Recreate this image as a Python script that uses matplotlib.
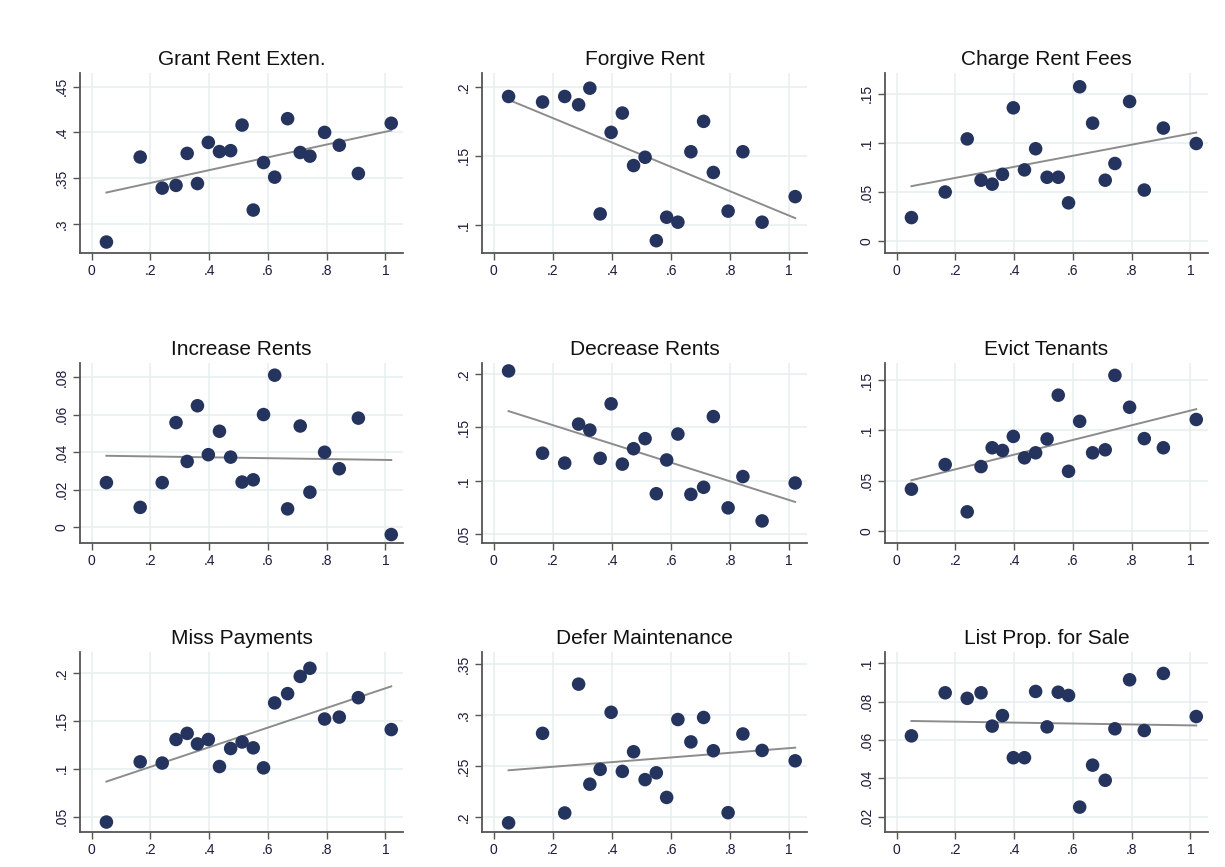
import numpy as np
import matplotlib.pyplot as plt
from matplotlib.ticker import FuncFormatter

plt.rcParams['font.family'] = ['Liberation Sans', 'DejaVu Sans']

# shared x values (share of ...), same for every panel
x = [0.05, 0.165, 0.24, 0.287, 0.325, 0.36, 0.397, 0.435, 0.473, 0.512,
     0.55, 0.585, 0.623, 0.667, 0.71, 0.743, 0.793, 0.843, 0.908, 1.02]

titles = ['Grant Rent Exten.', 'Forgive Rent', 'Charge Rent Fees',
          'Increase Rents', 'Decrease Rents', 'Evict Tenants',
          'Miss Payments', 'Defer Maintenance', 'List Prop. for Sale']

grant = [.280, .373, .339, .342, .377, .344, .389, .379, .380, .408,
         .315, .367, .351, .415, .378, .374, .400, .386, .355, .410]
forgive = [.193, .189, .193, .187, .199, .108, .167, .181, .143, .149,
           .0886, .1056, .102, .153, .175, .138, .110, .153, .102, .1205]
charge = [.024, .050, .104, .062, .058, .068, .1356, .0725, .094, .065,
          .065, .039, .157, .120, .062, .079, .142, .052, .115, .0993]
increase = [.0237, .0105, .0237, .0557, .035, .0647, .0386, .0511, .0373, .024,
            .0252, .060, .081, .0097, .0539, .0186, .0399, .0311, .0581, -.004]
decrease = [.2026, .1258, .1166, .153, .1474, .121, .1719, .1156, .130, .1394,
            .088, .1195, .1437, .0874, .094, .160, .0748, .104, .0626, .098]
evict = [.0415, .066, .019, .064, .0827, .080, .094, .0727, .0777, .0914,
         .135, .0593, .109, .0777, .0807, .1547, .123, .0918, .0827, .1108]
miss = [.0444, .1073, .106, .1306, .137, .126, .1306, .1024, .1212, .128,
        .1219, .101, .1688, .1785, .1965, .205, .152, .154, .1743, .141]
defer = [.194, .282, .2037, .3304, .232, .2466, .3027, .2446, .2639, .2365,
         .2432, .219, .2956, .2736, .2976, .2649, .204, .2814, .2652, .255]
listprop = [.0622, .0847, .0818, .0847, .0673, .0728, .0508, .0508, .0854, .0669,
            .085, .0833, .025, .0469, .039, .0659, .0915, .065, .0948, .0723]

series = [grant, forgive, charge, increase, decrease, evict, miss, defer, listprop]

yticks = [[.3, .35, .4, .45], [.1, .15, .2], [0, .05, .1, .15],
          [0, .02, .04, .06, .08], [.05, .1, .15, .2], [0, .05, .1, .15],
          [.05, .1, .15, .2], [.2, .25, .3, .35], [.02, .04, .06, .08, .1]]
ylims = [(.268, .465), (.0797, .210), (-.012, .171),
         (-.0085, .0875), (.042, .21), (-.012, .167),
         (.034, .222), (.185, .362), (.012, .106)]

xticks = [0, .2, .4, .6, .8, 1]

W, H = 1225, 867
lefts = [80, 482, 885]
widths = [323, 325, 323]
tops = [73, 363, 652]
ah = 180

navy = '#25345e'
grid = '#e9eff0'


def fmt(v, pos):
    if abs(v) < 1e-9:
        return '0'
    s = ('%.2f' % v).rstrip('0').rstrip('.')
    return s.replace('0.', '.', 1) if s.startswith('0.') else s


fig = plt.figure(figsize=(W / 100, H / 100), dpi=100)

for i in range(9):
    r, c = divmod(i, 3)
    ax = fig.add_axes([lefts[c] / W, 1 - (tops[r] + ah) / H, widths[c] / W, ah / H])
    xv = np.array(x)
    yv = np.array(series[i])
    ax.scatter(xv, yv, s=95, color=navy, zorder=3, edgecolors='none')
    b, a = np.polyfit(xv, yv, 1)
    xs = np.array([xv.min(), xv.max()])
    ax.plot(xs, a + b * xs, color='#8c8c8c', lw=1.4, zorder=2)

    ax.set_xlim(-0.04, 1.06)
    ax.set_ylim(*ylims[i])
    ax.set_xticks(xticks)
    ax.set_yticks(yticks[i])
    ax.xaxis.set_major_formatter(FuncFormatter(fmt))
    ax.yaxis.set_major_formatter(FuncFormatter(fmt))
    for lab in ax.get_yticklabels():
        lab.set_rotation(90)
        lab.set_va('center')
    ax.grid(True, color=grid, lw=1.2, zorder=0)
    ax.set_axisbelow(True)
    for sp in ['top', 'right']:
        ax.spines[sp].set_visible(False)
    for sp in ['left', 'bottom']:
        ax.spines[sp].set_color('#555555')
        ax.spines[sp].set_linewidth(1.3)
    ax.tick_params(direction='out', length=5, width=1, color='#555555',
                   labelsize=10, labelcolor='#1a1a3a', pad=3)
    ax.set_title(titles[i], fontsize=15, color='#111111', pad=6)

fig.savefig('out.png', dpi=100, facecolor='white')
